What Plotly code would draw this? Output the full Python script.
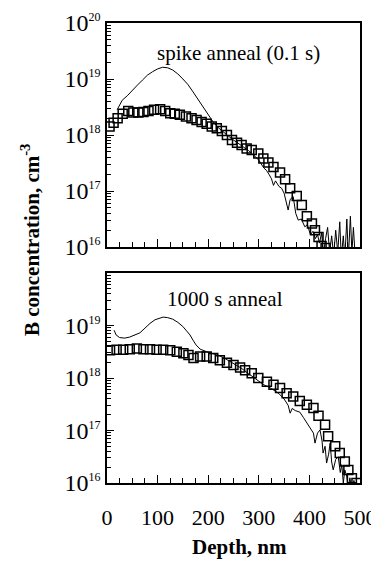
import plotly.graph_objects as go

# ---------------- data (depth in nm, log10 of B concentration) ----------------
spike_line_depth = [20, 25, 30, 40, 50, 60, 70, 80, 90, 100, 110, 120, 130, 140, 150, 160, 170, 180, 190, 200,
                    210, 220, 230, 240, 250, 260, 270, 280, 290, 300, 310, 315, 320, 325, 329, 333, 340, 345, 350,
                    355, 358, 362, 368, 373, 378, 384, 391, 396, 402, 407, 412, 416, 420, 424, 428, 432, 436, 440,
                    444, 448, 452, 456, 460, 463, 467, 470, 474, 477, 481, 484, 487, 490]
spike_line_log = [18.45, 18.55, 18.62, 18.70, 18.80, 18.89, 18.98, 19.07, 19.13, 19.18, 19.21, 19.20, 19.16, 19.09,
                  19.00, 18.90, 18.77, 18.64, 18.50, 18.37, 18.23, 18.13, 18.05, 17.98, 17.91, 17.85, 17.79, 17.72,
                  17.64, 17.55, 17.41, 17.37, 17.30, 17.22, 17.10, 17.18, 17.08, 17.05, 16.96, 16.80, 16.66, 16.85,
                  16.90, 16.60, 16.48, 16.50, 16.36, 16.40, 16.22, 16.28, 16.15, 16.22, 16.07, 16.25, 15.90, 16.15,
                  16.35, 15.90, 16.20, 15.85, 16.30, 15.90, 16.45, 15.80, 16.20, 15.80, 16.50, 15.80, 16.55, 15.90,
                  16.35, 15.90]

spike_sq_depth = [5, 13, 21, 31, 42, 52, 62, 72, 82, 93, 105, 115, 125, 134, 144, 156, 167, 177, 187, 197, 207,
                  217, 227, 237, 247, 257, 266, 276, 286, 299, 309, 319, 329, 342, 352, 362, 375, 385, 395, 405,
                  411, 418, 424, 432]
spike_sq_log = [18.15, 18.22, 18.30, 18.38, 18.43, 18.40, 18.40, 18.41, 18.43, 18.45, 18.46, 18.43, 18.39, 18.38,
                18.36, 18.33, 18.30, 18.27, 18.23, 18.20, 18.15, 18.12, 18.07, 18.00, 17.91, 17.86, 17.82, 17.76,
                17.73, 17.67, 17.58, 17.51, 17.43, 17.33, 17.21, 17.05, 16.91, 16.75, 16.55, 16.42, 16.30, 16.18,
                16.02, 15.98]

long_line_depth = [14, 18, 25, 35, 45, 55, 65, 75, 85, 95, 105, 111, 120, 130, 140, 150, 157, 164, 170, 176, 184,
                   190, 197, 210, 223, 235, 250, 265, 280, 295, 310, 325, 340, 350, 358, 362, 366, 372, 381, 388,
                   395, 402, 408, 411, 416, 421, 425, 427, 431, 434, 438, 441, 444, 447, 452, 457, 461, 464, 467,
                   470, 474, 477, 480, 484, 488, 492]
long_line_log = [18.91, 18.82, 18.77, 18.76, 18.78, 18.82, 18.86, 18.95, 19.04, 19.11, 19.15, 19.16, 19.15, 19.12,
                 19.06, 18.98, 18.90, 18.82, 18.72, 18.63, 18.55, 18.52, 18.50, 18.46, 18.42, 18.36, 18.28, 18.19,
                 18.08, 17.97, 17.87, 17.80, 17.70, 17.60, 17.48, 17.33, 17.42, 17.38, 17.35, 17.25, 17.14, 17.05,
                 16.95, 16.76, 16.95, 17.01, 16.80, 16.57, 16.70, 16.38, 16.55, 16.76, 16.40, 16.25, 16.45, 16.50,
                 16.20, 16.35, 16.00, 16.25, 16.12, 15.90, 16.10, 15.85, 16.05, 15.90]

long_sq_depth = [6, 19, 32, 45, 59, 72, 85, 98, 111, 125, 138, 151, 161, 171, 184, 197, 210, 223, 237, 250, 263,
                 273, 286, 299, 316, 329, 342, 355, 368, 381, 395, 408, 418, 431, 437, 451, 460, 470, 477, 484, 493]
long_sq_log = [18.53, 18.54, 18.54, 18.55, 18.56, 18.55, 18.55, 18.54, 18.54, 18.53, 18.50, 18.47, 18.44, 18.38,
               18.41, 18.41, 18.38, 18.34, 18.29, 18.25, 18.20, 18.15, 18.09, 18.00, 17.93, 17.87, 17.81, 17.71,
               17.65, 17.56, 17.49, 17.43, 17.28, 17.11, 16.89, 16.70, 16.57, 16.41, 16.25, 16.09, 16.00]

x_ticks = [0, 100, 200, 300, 400, 500]
y_exponents_top = [16, 17, 18, 19, 20]
y_exponents_bottom = [16, 17, 18, 19]

panel_labels = ["spike anneal (0.1 s)", "1000 s anneal"]
y_title = "B concentration, cm<sup>-3</sup>"
x_title = "Depth, nm"

# ---------------- figure ----------------
# The page body has an 8 px margin, so the figure is 8 px smaller and offset.
OFF = 8
W, H = 379 - OFF, 561 - OFF
FONT = "Liberation Serif"


def pv(v):
    return [10.0 ** e for e in v]


def px_x(p):
    return (p - OFF) / W


def px_y(p):
    return 1 - (p - OFF) / H


fig = go.Figure()

fig.add_trace(go.Scatter(x=spike_line_depth, y=pv(spike_line_log), mode="lines",
                         line=dict(color="black", width=1), xaxis="x", yaxis="y", showlegend=False))
fig.add_trace(go.Scatter(x=spike_sq_depth, y=pv(spike_sq_log), mode="markers",
                         marker=dict(symbol="square-open", size=9, color="black", line=dict(width=1.5)),
                         xaxis="x", yaxis="y", showlegend=False))
fig.add_trace(go.Scatter(x=long_line_depth, y=pv(long_line_log), mode="lines",
                         line=dict(color="black", width=1), xaxis="x2", yaxis="y2", showlegend=False))
fig.add_trace(go.Scatter(x=long_sq_depth, y=pv(long_sq_log), mode="markers",
                         marker=dict(symbol="square-open", size=9, color="black", line=dict(width=1.5)),
                         xaxis="x2", yaxis="y2", showlegend=False))

minor_y = [k * 10.0 ** e for e in range(16, 20) for k in range(2, 10)]


def ylab(e):
    return "10<sup><span style='font-size:12px'>%d</span></sup>" % e


xdom = [px_x(107), px_x(360)]
top_dom = [px_y(247), px_y(23)]
bot_dom = [px_y(483), px_y(273)]

common_x = dict(range=[0, 500], tickmode="array", tickvals=x_ticks, ticks="inside", ticklen=8, tickwidth=1.2,
                tickcolor="black", showline=True, linecolor="black", linewidth=1.5, mirror=True,
                showgrid=False, zeroline=False, domain=xdom, automargin=False,
                minor=dict(dtick=25, tick0=0, ticks="inside", ticklen=5, tickcolor="black", tickwidth=1,
                           showgrid=False))
common_y = dict(type="log", range=[16, 20], ticks="inside", ticklen=7, tickwidth=1.2, tickcolor="black",
                showline=True, linecolor="black", linewidth=1.5, mirror=True, showgrid=False, zeroline=False,
                automargin=False, tickfont=dict(family=FONT, size=24, color="black"),
                minor=dict(tickmode="array", tickvals=minor_y, ticks="inside", ticklen=4, tickcolor="black",
                           tickwidth=1, showgrid=False))

fig.update_layout(
    template="none",
    width=W, height=H, margin=dict(l=0, r=0, t=0, b=0, pad=0, autoexpand=False),
    paper_bgcolor="white", plot_bgcolor="white", showlegend=False,
    font=dict(family=FONT, color="black"),
    xaxis=dict(common_x, anchor="y", showticklabels=False),
    yaxis=dict(common_y, anchor="x", domain=top_dom, tickmode="array",
               tickvals=[10.0 ** e for e in y_exponents_top], ticktext=[ylab(e) for e in y_exponents_top]),
    xaxis2=dict(common_x, anchor="y2", showticklabels=True, ticklabelstandoff=14,
                tickfont=dict(family=FONT, size=22, color="black")),
    yaxis2=dict(common_y, anchor="x2", domain=bot_dom, tickmode="array",
                tickvals=[10.0 ** e for e in y_exponents_bottom], ticktext=[ylab(e) for e in y_exponents_bottom]),
    annotations=[
        dict(text=panel_labels[0], x=px_x(238), y=px_y(53), xref="paper", yref="paper", showarrow=False,
             font=dict(family=FONT, size=21, color="black"), xanchor="center", yanchor="middle"),
        dict(text=panel_labels[1], x=px_x(225), y=px_y(299), xref="paper", yref="paper", showarrow=False,
             font=dict(family=FONT, size=21, color="black"), xanchor="center", yanchor="middle"),
        dict(text="<b>" + y_title + "</b>", x=px_x(30), y=px_y(240), xref="paper", yref="paper",
             showarrow=False, textangle=-90, font=dict(family=FONT, size=21, color="black"),
             xanchor="center", yanchor="middle"),
        dict(text="<b>" + x_title + "</b>", x=px_x(239), y=px_y(547), xref="paper", yref="paper",
             showarrow=False, font=dict(family=FONT, size=21, color="black"),
             xanchor="center", yanchor="middle"),
    ],
)

fig.write_html("out.html")
